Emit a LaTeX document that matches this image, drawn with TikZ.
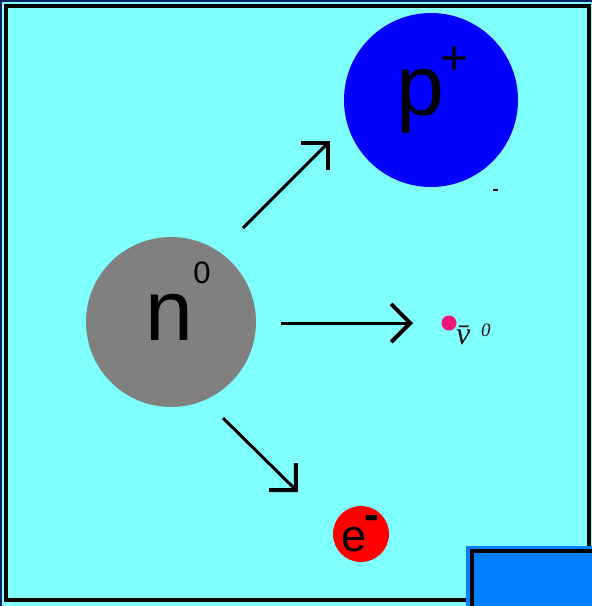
\documentclass[tikz,border=0pt]{standalone}
\usepackage{fontspec}
\setmainfont{Liberation Sans}
\newfontfamily\nufont{Liberation Serif}
\usetikzlibrary{arrows.meta}
\definecolor{tank}{HTML}{80FFFF}
\definecolor{ngray}{HTML}{808080}
\definecolor{pblue}{HTML}{0000FF}
\definecolor{ered}{HTML}{FF0000}
\definecolor{corner}{HTML}{0080FF}
\definecolor{edge}{HTML}{102060}
\definecolor{nupink}{RGB}{240,20,120}
\definecolor{nuink}{HTML}{201010}

\begin{document}
\begin{tikzpicture}[x=1pt,y=-1pt,
    arr/.style={line width=3pt,-{Straight Barb[length=19pt,width=38pt,line width=4pt]}},
    particle/.style={circle,inner sep=0pt,minimum size=#1},
    big/.style={font=\fontsize{86}{90}\selectfont,inner sep=0pt,anchor=base}]
    \useasboundingbox (0,0) rectangle (592,606);
    \fill[tank] (0,0) rectangle (592,606);
    \draw[edge,line width=2pt] (1,606) -- (1,1) -- (592,1);
    \draw[line width=4pt] (6,6) rectangle (588.5,600);
    % corner block
    \fill[corner] (466,546) rectangle (592,606);
    \draw[line width=4pt] (472,606) -- (472,550.5) -- (592,550.5);
    % particles
    \node[particle=170pt,fill=ngray] (neutron) at (171,322) {};
    \node[particle=174pt,fill=pblue] (proton) at (431,100) {};
    \node[particle=56pt,fill=ered] (electron) at (361,534) {};
    \node[particle=15pt,fill=nupink] (antinu) at (449,323) {};
    \draw[line width=2pt] (493,190) -- (498,190);
    % labels
    \node[big] (nlabel) at (169,340) {n};
    \node[font=\fontsize{31}{34}\selectfont,inner sep=0pt,anchor=base] (ncharge) at (202,283) {0};
    \node[big] (plabel) at (420,115) {p};
    \node[font=\fontsize{48}{50}\selectfont,inner sep=0pt] (pcharge) at (455,61) {+};
    \node[font=\fontsize{45}{50}\selectfont,inner sep=0pt,anchor=base] (elabel) at (354,551) {e};
    \node[font=\bfseries\fontsize{44}{50}\selectfont,inner sep=0pt] (echarge) at (372,522) {-};
    \node[font=\nufont\itshape\fontsize{32}{34}\selectfont,text=nuink,inner sep=0pt,anchor=base west] (nulabel) at (456,344) {\=v};
    \node[font=\nufont\itshape\fontsize{19}{20}\selectfont,text=nuink,inner sep=0pt,anchor=base west] (nucharge) at (481,336) {0};
    % decay arrows
    \coordinate (a1) at (243,228);
    \coordinate (b1) at (330,141);
    \coordinate (a2) at (281,323);
    \coordinate (b2) at (413,323);
    \coordinate (a3) at (223,418);
    \coordinate (b3) at (298,492);
    \draw[arr] (a1) -- (b1);
    \draw[arr] (a2) -- (b2);
    \draw[arr] (a3) -- (b3);
\end{tikzpicture}
\end{document}
